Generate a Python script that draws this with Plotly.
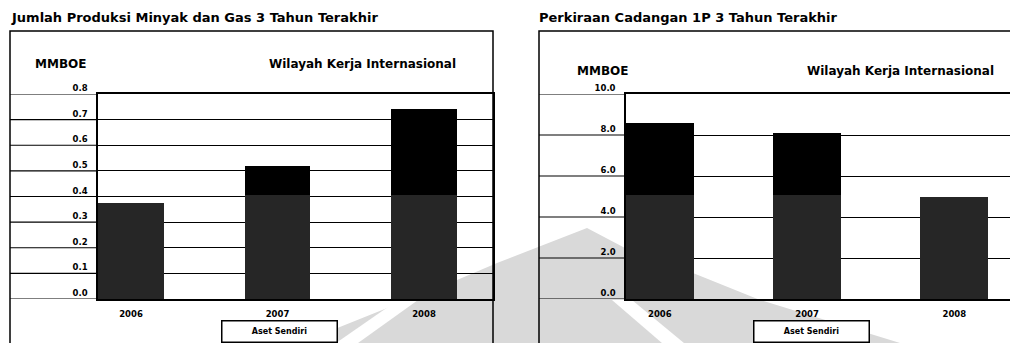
import plotly.graph_objects as go

# ---- data ----
years = ["2006", "2007", "2008"]

# Jumlah produksi minyak dan gas (MMBOE)
prod_sendiri = [0.375, 0.405, 0.405]
prod_mitra = [0.0, 0.115, 0.335]
prod_ticks = [0.0, 0.1, 0.2, 0.3, 0.4, 0.5, 0.6, 0.7, 0.8]

# Perkiraan cadangan 1P (MMBOE)
cad_sendiri = [5.07, 5.07, 5.0]
cad_mitra = [3.52, 3.01, 0.0]
cad_ticks = [0.0, 2.0, 4.0, 6.0, 8.0, 10.0]

legend_label = "Aset Sendiri"

W, H = 1010, 343
FONT = "DejaVu Sans"
GRAY = "#262626"
BLACK = "#000000"


def px(x):
    return x / W


def py(y):
    return 1 - y / H


fig = go.Figure()

fig.add_trace(go.Bar(x=years, y=prod_sendiri, name=legend_label, marker=dict(color=GRAY, line=dict(width=0)),
                     width=0.45, xaxis="x", yaxis="y"))
fig.add_trace(go.Bar(x=years, y=prod_mitra, name="Aset Mitra", marker=dict(color=BLACK, line=dict(width=0)),
                     width=0.45, xaxis="x", yaxis="y"))
fig.add_trace(go.Bar(x=years, y=cad_sendiri, name=legend_label, marker=dict(color=GRAY, line=dict(width=0)),
                     width=0.46, xaxis="x2", yaxis="y2"))
fig.add_trace(go.Bar(x=years, y=cad_mitra, name="Aset Mitra", marker=dict(color=BLACK, line=dict(width=0)),
                     width=0.46, xaxis="x2", yaxis="y2"))

tick_font = dict(family=FONT, size=8.5, color="#000", weight="bold")
ydom = [py(299), py(94)]

common_x = dict(type="category", showgrid=False, showline=True, linecolor="#000", linewidth=1.5,
                mirror=True, ticks="", tickfont=tick_font, ticklabelstandoff=6, zeroline=False,
                automargin=False)
common_y = dict(showgrid=True, gridcolor="#000", gridwidth=1.2, showline=True, linecolor="#000",
                linewidth=1.5, mirror=True, ticks="", tickfont=tick_font, zeroline=False,
                ticklabelposition="outside top", ticklabelstandoff=7, tickformat=".1f",
                automargin=False)

fig.update_layout(
    width=W, height=H,
    margin=dict(l=0, r=0, t=0, b=0),
    paper_bgcolor="white", plot_bgcolor="rgba(0,0,0,0)",
    barmode="stack", bargap=0, showlegend=False,
    xaxis=dict(domain=[px(98), px(493)], range=[-0.225, 2.471], anchor="y", **common_x),
    yaxis=dict(domain=ydom, range=[0, 0.8], tickvals=prod_ticks, anchor="x", **common_y),
    xaxis2=dict(domain=[px(626), 1.0], range=[-0.23, 2.378], anchor="y2", **common_x),
    yaxis2=dict(domain=ydom, range=[0, 10], tickvals=cad_ticks, anchor="x2", **common_y),
)

shapes = []

# faint background emblem
emblem = [(300, 343), (457, 280), (497, 263), (587, 228), (625, 248), (693, 273), (760, 300), (900, 343)]
stripes = [
    [(336, 343), (358, 343), (418, 300), (398, 300)],
    [(612, 300), (632, 300), (684, 343), (662, 343)],
]


def poly(points):
    return "M " + " L ".join(f"{px(x):.4f},{py(y):.4f}" for x, y in points) + " Z"


shapes.append(dict(type="path", path=poly(emblem), xref="paper", yref="paper", fillcolor="#d9d9d9",
                   line=dict(width=0), layer="below"))
for s in stripes:
    shapes.append(dict(type="path", path=poly(s), xref="paper", yref="paper", fillcolor="white",
                       line=dict(width=0), layer="below"))

# gridlines carried across the label area to the frame edge
for v in prod_ticks:
    shapes.append(dict(type="line", xref="paper", yref="y", x0=px(10), x1=px(98), y0=v, y1=v,
                       line=dict(color="#000", width=1.2), layer="below"))
for v in cad_ticks:
    shapes.append(dict(type="line", xref="paper", yref="y2", x0=px(539), x1=px(626), y0=v, y1=v,
                       line=dict(color="#000", width=1.2), layer="below"))

# outer chart frames
shapes.append(dict(type="rect", xref="paper", yref="paper", x0=px(10), x1=px(493), y0=-0.1, y1=py(31),
                   line=dict(color="#000", width=1.5), fillcolor="rgba(0,0,0,0)", layer="below"))
shapes.append(dict(type="rect", xref="paper", yref="paper", x0=px(539), x1=1.05, y0=-0.1, y1=py(31),
                   line=dict(color="#000", width=1.5), fillcolor="rgba(0,0,0,0)", layer="below"))
fig.update_layout(shapes=shapes)

title_font = dict(family=FONT, size=13, color="#000", weight="bold")
label_font = dict(family=FONT, size=12, color="#000", weight="bold")
annos = [
    dict(text="Jumlah Produksi Minyak dan Gas 3 Tahun Terakhir", x=px(9), y=py(17), font=title_font),
    dict(text="Perkiraan Cadangan 1P 3 Tahun Terakhir", x=px(537), y=py(17), font=title_font),
    dict(text="MMBOE", x=px(33), y=py(64), font=label_font),
    dict(text="Wilayah Kerja Internasional", x=px(267), y=py(64), font=label_font),
    dict(text="MMBOE", x=px(575), y=py(71), font=label_font),
    dict(text="Wilayah Kerja Internasional", x=px(805), y=py(71), font=label_font),
]
for a in annos:
    fig.add_annotation(xref="paper", yref="paper", xanchor="left", yanchor="middle", showarrow=False, **a)

# series key boxes under each chart
for cx in (279, 811):
    fig.add_annotation(text=legend_label, xref="paper", yref="paper", x=px(cx), y=py(331),
                       xanchor="center", yanchor="middle", showarrow=False, width=111, height=17,
                       bordercolor="#000", borderwidth=1.5, borderpad=1.5, bgcolor="white",
                       font=dict(family=FONT, size=8, color="#000", weight="bold"))

fig.write_html("out.html")
